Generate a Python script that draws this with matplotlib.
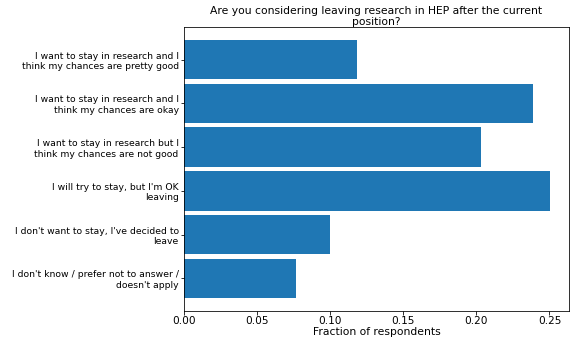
import matplotlib
matplotlib.use("Agg")
import matplotlib.pyplot as plt

# answers from top to bottom
odpowiedzi = [
    "I want to stay in research and I\nthink my chances are pretty good",
    "I want to stay in research and I\nthink my chances are okay",
    "I want to stay in research but I\nthink my chances are not good",
    "I will try to stay, but I'm OK\nleaving",
    "I don't want to stay, I've decided to\nleave",
    "I don't know / prefer not to answer /\ndoesn't apply",
]
frakcje = [0.118, 0.239, 0.203, 0.2507, 0.100, 0.0765]

fig, ax = plt.subplots(figsize=(581 / 72, 339 / 72), dpi=72)
fig.subplots_adjust(left=0.317, right=0.979, top=0.920, bottom=0.083)

pozycje = list(range(len(odpowiedzi)))[::-1]
ax.barh(pozycje, frakcje, height=0.9, color='#1f77b4')
ax.set_yticks(pozycje)
ax.set_yticklabels(odpowiedzi, fontsize=9.3)
ax.tick_params(axis='x', labelsize=10.5, pad=2)
ax.tick_params(axis='y', pad=2)
ax.set_xticks([0, 0.05, 0.10, 0.15, 0.20, 0.25])
ax.set_xticklabels(['0.00', '0.05', '0.10', '0.15', '0.20', '0.25'])
ax.set_xlabel('Fraction of respondents', fontsize=10.8, labelpad=1)
ax.set_title('Are you considering leaving research in HEP after the current\nposition?',
             fontsize=10.7, pad=2, linespacing=1.1)

plt.savefig('out.png', dpi=72)
